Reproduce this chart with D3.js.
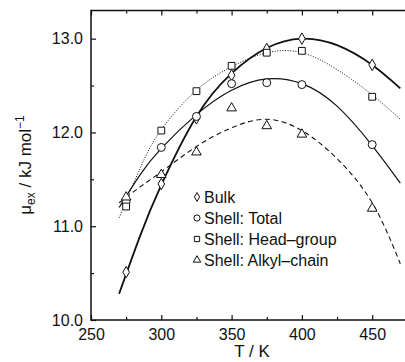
<!doctype html>
<html>
<head>
<meta charset="utf-8">
<title>mu ex vs T</title>
<style>
  body { margin: 0; background: #fff; }
  svg { display: block; font-family: "Liberation Sans", Arial, sans-serif; }
</style>
</head>
<body>
<div id="here"></div>
<script src="https://d3js.org/d3.v7.min.js"></script>
<script>
// simulation points
var temps = [275, 300, 325, 350, 375, 400, 450];
var bulk = [10.51, 11.45, 12.15, 12.61, 12.89, 13.0, 12.72];
var shellTotal = [11.26, 11.84, 12.17, 12.52, 12.53, 12.51, 11.87];
var shellHead = [11.21, 12.02, 12.44, 12.71, 12.85, 12.87, 12.38];
var shellAlkyl = [11.32, 11.56, 11.80, 12.27, 12.08, 11.99, 11.20];

// fitted curves
var fitT = [270, 285, 300, 325, 350, 375, 400, 425, 450, 470];
var bulkFit = [10.28, 10.90, 11.44, 12.17, 12.63, 12.90, 13.00, 12.93, 12.72, 12.47];
var totalFit = [11.20, 11.55, 11.83, 12.19, 12.45, 12.57, 12.52, 12.28, 11.86, 11.46];
var headFit = [11.09, 11.62, 12.03, 12.45, 12.70, 12.85, 12.85, 12.67, 12.40, 12.14];
var alkylFit = [11.25, 11.42, 11.58, 11.85, 12.05, 12.14, 12.02, 11.72, 11.25, 10.60];

var xTicks = [250, 300, 350, 400, 450, 500];
var xLabels = [250, 300, 350, 400, 450];
var xMinor = [275, 325, 375, 425, 475];
var yTicks = [10, 11, 12, 13];
var yMinor = [10.5, 11.5, 12.5];

var series = [
  {name: "Bulk", pts: bulk, fit: bulkFit, sym: d3.symbolDiamond, size: 38, width: 1.8, dash: null},
  {name: "Shell: Total", pts: shellTotal, fit: totalFit, sym: d3.symbolCircle, size: 50, width: 1.2, dash: null},
  {name: "Shell: Head\u2013group", pts: shellHead, fit: headFit, sym: d3.symbolSquare, size: 46, width: 1, dash: "1,1.6"},
  {name: "Shell: Alkyl\u2013chain", pts: shellAlkyl, fit: alkylFit, sym: d3.symbolTriangle, size: 40, width: 1.1, dash: "5,3.5"}
];

var w = 405, h = 362;
var svg = d3.select("#here").append("svg").attr("width", w).attr("height", h);

var x = d3.scaleLinear().domain([250, 500]).range([91, 442.5]);
var y = d3.scaleLinear().domain([10, 13.3]).range([320, 10.5]);

svg.append("clipPath").attr("id", "plot")
  .append("rect").attr("x", 91).attr("y", 10.5).attr("width", 352).attr("height", 310);

// curves
var line = d3.line()
  .x(function(d) { return x(d[0]); })
  .y(function(d) { return y(d[1]); })
  .curve(d3.curveNatural);

series.forEach(function(s) {
  svg.append("path")
    .datum(fitT.map(function(t, i) { return [t, s.fit[i]]; }))
    .attr("d", line)
    .attr("fill", "none")
    .attr("stroke", "#111")
    .attr("stroke-width", s.width)
    .attr("stroke-dasharray", s.dash)
    .attr("clip-path", "url(#plot)");
});

// markers
series.forEach(function(s) {
  svg.append("g").selectAll("path")
    .data(temps.map(function(t, i) { return [t, s.pts[i]]; }))
    .enter().append("path")
    .attr("transform", function(d) {
      var dy = s.sym === d3.symbolTriangle ? 1 : 0;
      return "translate(" + x(d[0]) + "," + (y(d[1]) + dy) + ")";
    })
    .attr("d", d3.symbol().type(s.sym).size(s.size))
    .attr("fill", "#fff")
    .attr("stroke", "#111")
    .attr("stroke-width", 1);
});

// axes, ticks inward
function tickStyle(g) {
  g.select(".domain").remove();
  g.selectAll("line").attr("stroke", "#111").attr("stroke-width", 1.2);
  g.selectAll("text").attr("fill", "#111").attr("font-size", 16);
}

svg.append("g").attr("transform", "translate(0,320)")
  .call(d3.axisBottom(x).tickValues(xTicks).tickSize(-5).tickFormat(""))
  .call(tickStyle);
svg.append("g").attr("transform", "translate(0,320)")
  .call(d3.axisBottom(x).tickValues(xLabels).tickSize(0).tickFormat(d3.format("d")))
  .call(tickStyle)
  .selectAll("text").attr("dy", "0.71em").attr("y", 9);
svg.append("g").attr("transform", "translate(0,320)")
  .call(d3.axisBottom(x).tickValues(xMinor).tickSize(-3).tickFormat(""))
  .call(tickStyle);
svg.append("g").attr("transform", "translate(0,10.5)")
  .call(d3.axisTop(x).tickValues(xTicks).tickSize(-5).tickFormat(""))
  .call(tickStyle);
svg.append("g").attr("transform", "translate(0,10.5)")
  .call(d3.axisTop(x).tickValues(xMinor).tickSize(-3).tickFormat(""))
  .call(tickStyle);

svg.append("g").attr("transform", "translate(91,0)")
  .call(d3.axisLeft(y).tickValues(yTicks).tickSize(-5).tickPadding(8).tickFormat(d3.format(".1f")))
  .call(tickStyle);
svg.append("g").attr("transform", "translate(91,0)")
  .call(d3.axisLeft(y).tickValues(yMinor).tickSize(-3).tickFormat(""))
  .call(tickStyle);

// frame
svg.append("rect")
  .attr("x", 91).attr("y", 10.5).attr("width", 351.5).attr("height", 309.5)
  .attr("fill", "none").attr("stroke", "#111").attr("stroke-width", 1.5);

// axis titles
svg.append("text")
  .attr("x", 252).attr("y", 357)
  .attr("text-anchor", "middle")
  .attr("font-size", 17)
  .attr("fill", "#111")
  .text("T / K");

var yl = svg.append("text")
  .attr("transform", "translate(31,165) rotate(-90)")
  .attr("text-anchor", "middle")
  .attr("font-size", 17)
  .attr("fill", "#111");
yl.append("tspan").text("\u03bc");
yl.append("tspan").attr("font-size", 12).attr("dy", 4).text("ex");
yl.append("tspan").attr("dy", -4).text(" / kJ mol");
yl.append("tspan").attr("font-size", 12).attr("dy", -7).text("\u22121");

// legend
var leg = svg.append("g").attr("transform", "translate(197,197)");
series.forEach(function(s, i) {
  var row = leg.append("g").attr("transform", "translate(0," + i * 21 + ")");
  row.append("path")
    .attr("d", d3.symbol().type(s.sym).size(s.size * 0.6))
    .attr("fill", "#fff").attr("stroke", "#111").attr("stroke-width", 1);
  row.append("text")
    .attr("x", 7).attr("dy", "0.36em")
    .attr("font-size", 16)
    .attr("fill", "#111")
    .text(s.name);
});
</script>
</body>
</html>
